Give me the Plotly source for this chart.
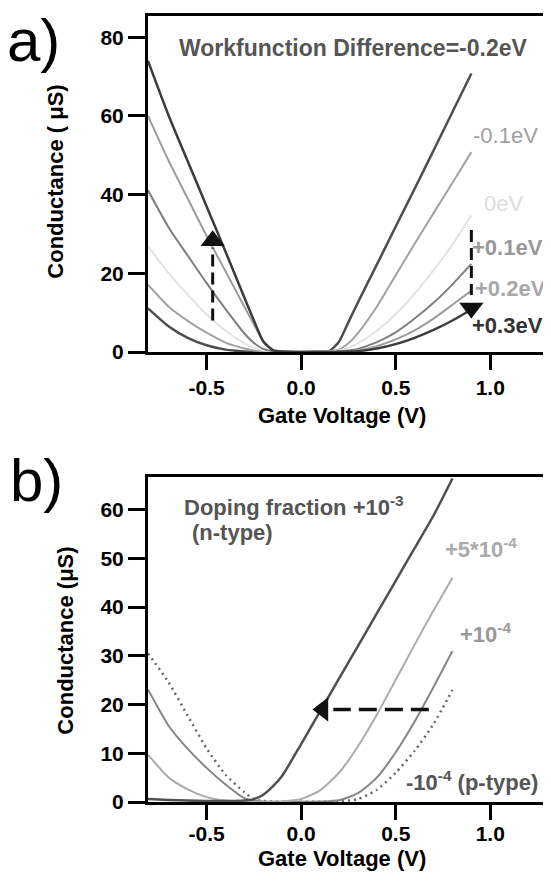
import plotly.graph_objects as go

# ---------------- data ----------------
# Panel a: gate voltage (V) and conductance (uS) for each workfunction difference
xa = [-0.81, -0.7, -0.6, -0.5, -0.4, -0.3, -0.25, -0.2, -0.15, -0.1, 0.0, 0.1, 0.15, 0.2, 0.25, 0.3, 0.4, 0.5, 0.6, 0.7, 0.8, 0.9]
wf_m02 = [11.1, 6.5, 3.6, 1.7, 0.6, 0.15, 0.05, 0.0, 0.0, 0.0, 0.0, 0.1, 0.3, 2.6, 7.6, 12.6, 22.2, 31.9, 41.5, 51.2, 61.0, 70.8]
wf_m01 = [17.1, 11.5, 7.9, 4.9, 2.4, 0.9, 0.4, 0.15, 0.05, 0.0, 0.0, 0.05, 0.2, 0.6, 2.2, 4.8, 11.5, 19.5, 27.5, 35.3, 43.0, 50.8]
wf_0 = [26.9, 20.0, 14.6, 9.6, 5.4, 2.2, 1.1, 0.4, 0.15, 0.05, 0.0, 0.05, 0.15, 0.4, 1.1, 2.2, 5.4, 9.6, 14.8, 20.8, 27.3, 34.7]
wf_p01 = [41.1, 31.6, 24.5, 17.5, 10.9, 4.7, 2.3, 0.8, 0.2, 0.05, 0.0, 0.0, 0.05, 0.15, 0.4, 0.8, 2.5, 5.0, 8.5, 12.5, 17.2, 22.4]
wf_p02 = [60.0, 48.5, 39.0, 29.5, 20.5, 11.5, 7.0, 2.8, 0.6, 0.1, 0.0, 0.0, 0.0, 0.05, 0.15, 0.4, 1.5, 3.2, 5.5, 8.5, 12.0, 15.6]
wf_p03 = [74.0, 60.0, 48.5, 37.0, 25.5, 13.8, 8.0, 2.6, 0.5, 0.1, 0.0, 0.0, 0.0, 0.05, 0.1, 0.2, 0.9, 2.0, 3.6, 5.6, 8.0, 10.8]
wf_labels = ["Workfunction Difference=-0.2eV", "-0.1eV", "0eV", "+0.1eV", "+0.2eV", "+0.3eV"]

# Panel b: doping fraction series
xb = [-0.81, -0.7, -0.6, -0.5, -0.4, -0.3, -0.25, -0.2, -0.15, -0.1, 0.0, 0.1, 0.2, 0.3, 0.4, 0.5, 0.6, 0.7, 0.8]
dop_1e3 = [0.6, 0.4, 0.3, 0.2, 0.2, 0.3, 0.6, 1.5, 3.2, 5.4, 11.9, 18.6, 25.3, 32.0, 38.7, 45.4, 52.1, 58.8, 66.4]
dop_5e4 = [9.7, 5.0, 2.6, 1.0, 0.3, 0.1, 0.05, 0.05, 0.05, 0.1, 0.6, 2.4, 6.0, 11.4, 17.9, 25.1, 32.3, 39.3, 46.0]
dop_1e4 = [23.1, 15.6, 10.9, 7.0, 3.6, 0.8, 0.3, 0.1, 0.05, 0.05, 0.05, 0.1, 0.35, 1.8, 5.0, 10.2, 16.5, 23.6, 31.0]
dop_m1e4 = [30.5, 24.5, 17.7, 11.0, 5.6, 2.0, 0.6, 0.2, 0.1, 0.05, 0.05, 0.05, 0.1, 0.6, 2.5, 6.0, 10.5, 16.0, 23.0]
dop_labels = ["Doping fraction +10<sup>-3</sup>", "(n-type)", "+5*10<sup>-4</sup>", "+10<sup>-4</sup>",
              "-10<sup>-4</sup> (p-type)"]

xtick_vals = [-0.5, 0.0, 0.5, 1.0]
xtick_text = ["-0.5", "0.0", "0.5", "1.0"]
ya_ticks = [0, 20, 40, 60, 80]
yb_ticks = [0, 10, 20, 30, 40, 50, 60]

# arrows (data units)
arrow_a_up_x = [-0.468, -0.468]
arrow_a_up_y = [8.0, 26.5]
arrow_a_up_head = (-0.468, 28.3)
arrow_a_dn_x = [0.9, 0.9]
arrow_a_dn_y = [31.0, 14.5]
arrow_a_dn_head = (0.9, 11.2)
arrow_b_x = [0.675, 0.17]
arrow_b_y = [19.0, 19.0]
arrow_b_head = (0.115, 19.0)

# ---------------- figure ----------------
# page body has an 8px margin; the figure is sized so it fits in the 551x881 window
OFF = 8
W, H = 551 - OFF, 881 - 2 * OFF
ML, MR, MT = 148 - OFF, 1, 16 - OFF
MB = H - (802 - OFF)
PW = W - ML - MR
PH = H - MT - MB


def px(x):
    return (x - OFF - ML) / PW


def py(y):
    return (H - MB - (y - OFF)) / PH


fig = go.Figure()

FONT = "Arial, Liberation Sans, sans-serif"
sm = 0.6

a_series = [
    (wf_m02, "#4e4e4e", 2.5),
    (wf_m01, "#a2a2a2", 2),
    (wf_0, "#e2e2e2", 2),
    (wf_p01, "#7e7e7e", 2),
    (wf_p02, "#9c9c9c", 2),
    (wf_p03, "#3c3c3c", 2.5),
]
for ys, col, w in a_series:
    fig.add_trace(go.Scatter(x=xa, y=ys, mode="lines", line=dict(color=col, width=w, shape="spline", smoothing=sm),
                             showlegend=False, xaxis="x", yaxis="y"))

b_series = [
    (dop_m1e4, "#666666", 2.5, "2px,4px"),
    (dop_1e4, "#858585", 2, "solid"),
    (dop_5e4, "#acacac", 2, "solid"),
    (dop_1e3, "#505050", 2.5, "solid"),
]
for ys, col, w, d in b_series:
    fig.add_trace(go.Scatter(x=xb, y=ys, mode="lines", line=dict(color=col, width=w, dash=d, shape="spline", smoothing=sm),
                             showlegend=False, xaxis="x2", yaxis="y2"))

# dashed arrows
fig.add_trace(go.Scatter(x=arrow_a_up_x, y=arrow_a_up_y, mode="lines", line=dict(color="#111", width=3, dash="12px,6px"),
                         showlegend=False, xaxis="x", yaxis="y"))
fig.add_trace(go.Scatter(x=[arrow_a_up_head[0]], y=[arrow_a_up_head[1]], mode="markers",
                         marker=dict(symbol="triangle-up", size=21, color="#111"), showlegend=False, xaxis="x", yaxis="y"))
fig.add_trace(go.Scatter(x=arrow_a_dn_x, y=arrow_a_dn_y, mode="lines", line=dict(color="#111", width=3, dash="12px,6px"),
                         showlegend=False, xaxis="x", yaxis="y"))
fig.add_trace(go.Scatter(x=[arrow_a_dn_head[0]], y=[arrow_a_dn_head[1]], mode="markers",
                         marker=dict(symbol="triangle-down", size=21, color="#111"), showlegend=False, xaxis="x", yaxis="y"))
fig.add_trace(go.Scatter(x=arrow_b_x, y=arrow_b_y, mode="lines", line=dict(color="#111", width=3.5, dash="18px,8px"),
                         showlegend=False, xaxis="x2", yaxis="y2"))
fig.add_trace(go.Scatter(x=[arrow_b_head[0]], y=[arrow_b_head[1]], mode="markers",
                         marker=dict(symbol="triangle-left", size=21, color="#111"), showlegend=False, xaxis="x2", yaxis="y2"))

axis_common = dict(showgrid=False, zeroline=False, showline=True, linecolor="black", linewidth=3, mirror=True,
                   ticks="outside", tickcolor="black", tickwidth=2.5,
                   tickfont=dict(family=FONT, size=21, color="black", weight="bold"))

fig.update_layout(
    width=W, height=H,
    margin=dict(l=ML, r=MR, t=MT, b=MB),
    paper_bgcolor="white", plot_bgcolor="white",
    xaxis=dict(axis_common, domain=[0, 1], range=[-0.81, 1.3], tickvals=xtick_vals, ticktext=xtick_text,
               ticklen=15, ticklabelstandoff=0, anchor="y"),
    yaxis=dict(axis_common, domain=[py(352), 1], range=[0, 85.4], tickvals=ya_ticks, ticklen=17,
               ticklabelstandoff=0, anchor="x"),
    xaxis2=dict(axis_common, domain=[0, 1], range=[-0.81, 1.3], tickvals=xtick_vals, ticktext=xtick_text,
                ticklen=15, ticklabelstandoff=-4, anchor="y2"),
    yaxis2=dict(axis_common, domain=[0, py(477)], range=[0, 66.7], tickvals=yb_ticks, ticklen=17,
                ticklabelstandoff=0, anchor="x2"),
)


def ann(text, x, y, size=22, color="black", weight="bold", xanchor="left", angle=0, family=FONT):
    fig.add_annotation(text=text, x=px(x), y=py(y), xref="paper", yref="paper", showarrow=False,
                       xanchor=xanchor, yanchor="middle", textangle=angle, borderpad=0,
                       font=dict(family=family, size=size, color=color, weight=weight))


# panel letters
ann("a)", 33, 40, size=60, weight="normal", xanchor="center")
ann("b)", 36, 481, size=60, weight="normal", xanchor="center")

# axis titles
ann("Conductance ( μS)", 55, 182, angle=-90, xanchor="center")
ann("Conductance (μS)", 64, 641, angle=-90, xanchor="center")
ann("Gate Voltage (V)", 343, 415, xanchor="center")
ann("Gate Voltage (V)", 343, 858, xanchor="center")

# panel a labels
ann(wf_labels[0], 178, 48, size=23, color="#555555")
ann(wf_labels[1], 474, 135, color="#a0a0a0", weight="normal")
ann(wf_labels[2], 486, 203, color="#dddddd", weight="normal")
ann(wf_labels[3], 473, 248, color="#999999")
ann(wf_labels[4], 476, 288, color="#a8a8a8")
ann(wf_labels[5], 473, 325, color="#333333")

# panel b labels
ann(dop_labels[0], 183, 506, color="#555555")
ann(dop_labels[1], 191, 532, color="#555555")
ann(dop_labels[2], 446, 548, color="#aaaaaa")
ann(dop_labels[3], 461, 633, color="#999999")
ann(dop_labels[4], 407, 781, color="#555555")

fig.write_html("out.html")
